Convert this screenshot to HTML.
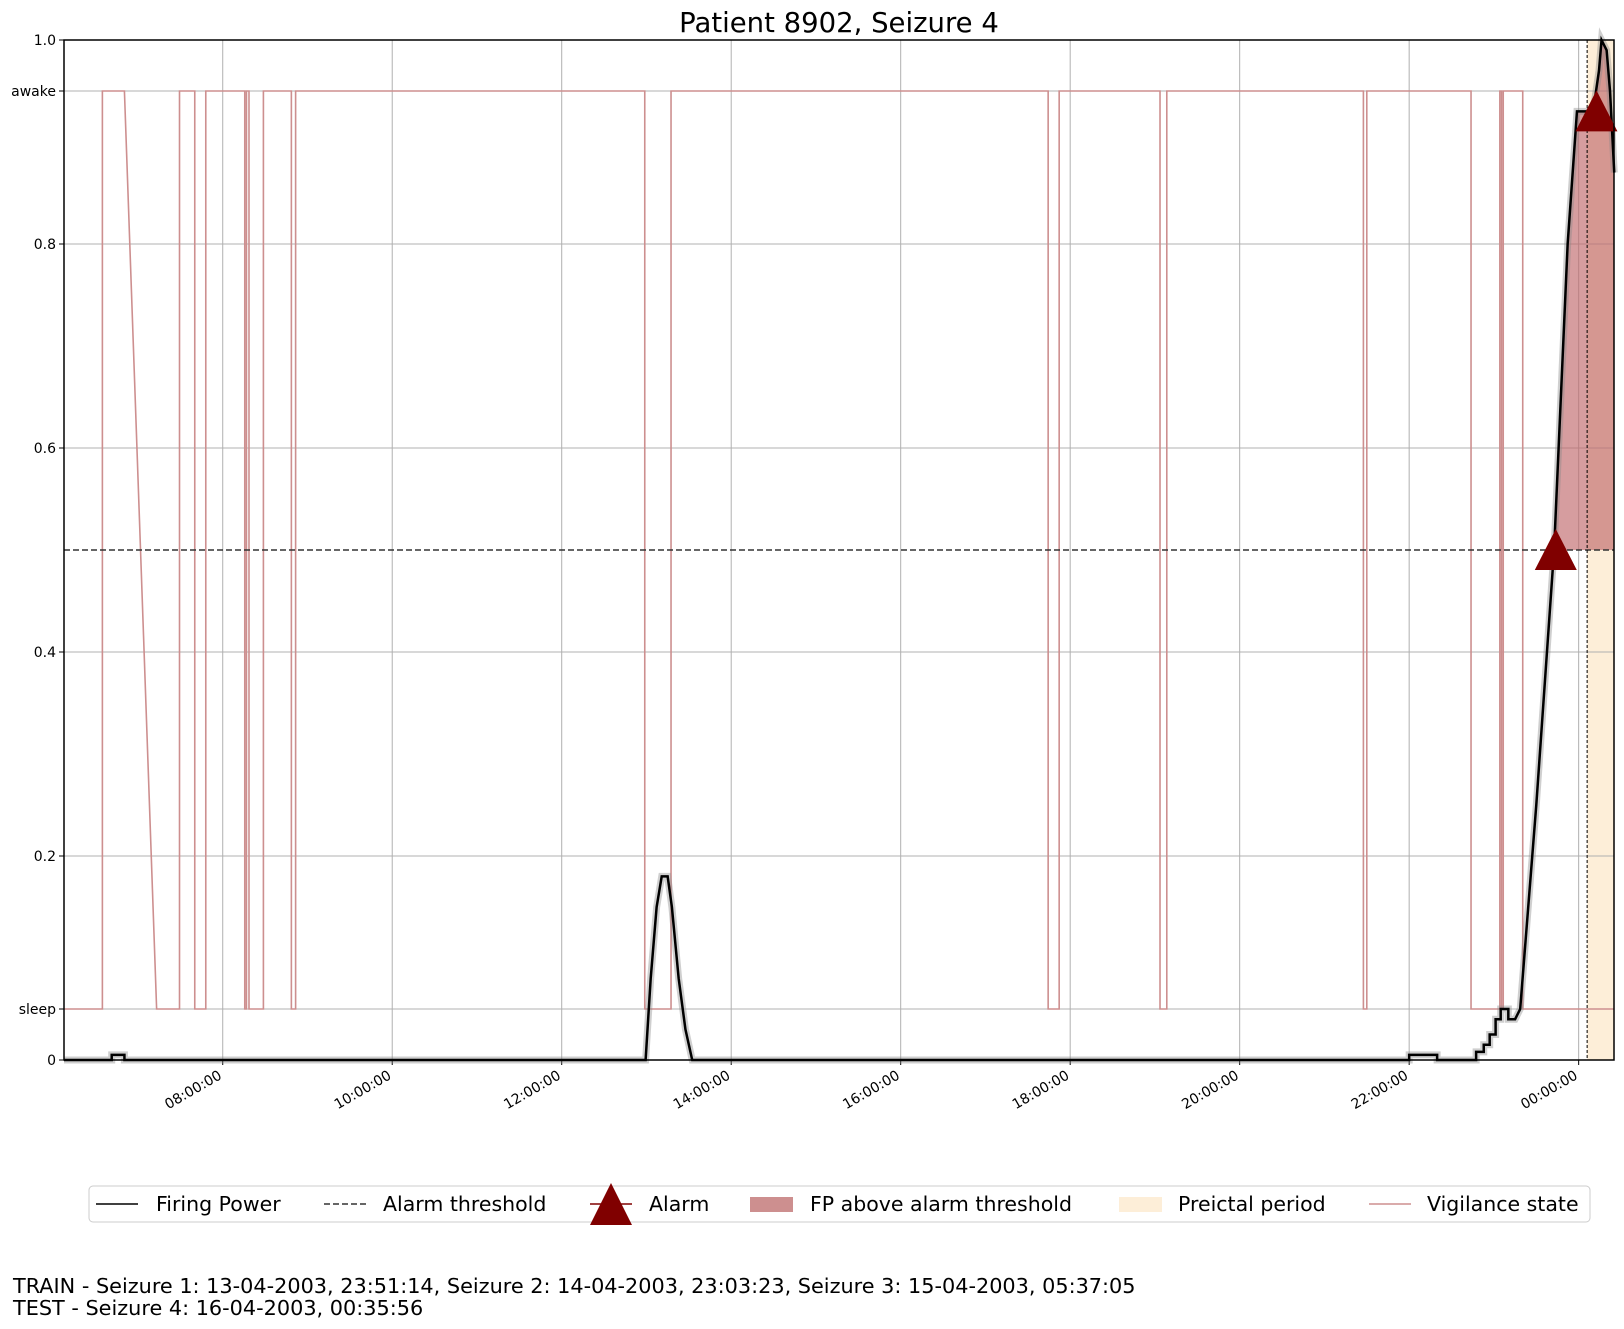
<!DOCTYPE html>
<html><head><meta charset="utf-8"><style>
body{margin:0;background:#fff}
svg{display:block;font-family:"DejaVu Sans","Liberation Sans",sans-serif}
</style></head><body>
<svg id="chart" width="1624" height="1329" viewBox="0 0 1624 1329" xmlns="http://www.w3.org/2000/svg">
<text x="839" y="32" font-size="27.5" text-anchor="middle">Patient 8902, Seizure 4</text>
<g id="plot"></g>
<g>
<rect x="89" y="1186" width="1501" height="36" rx="4" fill="#fff" stroke="#ccc"/>
<line x1="96" y1="1204" x2="138" y2="1204" stroke="#000" stroke-width="1.5"/>
<text x="156" y="1211" font-size="20.5">Firing Power</text>
<line x1="324" y1="1204" x2="366" y2="1204" stroke="#333" stroke-width="1.5" stroke-dasharray="6,3"/>
<text x="383" y="1211" font-size="20.5">Alarm threshold</text>
<line x1="590" y1="1204" x2="632" y2="1204" stroke="#800000" stroke-width="1.5"/>
<polygon points="611,1183 590,1225 632,1225" fill="#800000"/>
<text x="649" y="1211" font-size="20.5">Alarm</text>
<rect x="750" y="1197" width="43" height="15" fill="#cd8f8f"/>
<text x="810" y="1211" font-size="20.5">FP above alarm threshold</text>
<rect x="1119" y="1197" width="43" height="15" fill="#fdeed8"/>
<text x="1178" y="1211" font-size="20.5">Preictal period</text>
<line x1="1369" y1="1204" x2="1411" y2="1204" stroke="#cd8f8f" stroke-width="1.5"/>
<text x="1427" y="1211" font-size="20.5">Vigilance state</text>
</g>
<text x="13" y="1293" font-size="20.8">TRAIN - Seizure 1: 13-04-2003, 23:51:14, Seizure 2: 14-04-2003, 23:03:23, Seizure 3: 15-04-2003, 05:37:05</text>
<text x="13" y="1315" font-size="20.8">TEST - Seizure 4: 16-04-2003, 00:35:56</text>
</svg>
<script>
const xTickHours=[8,10,12,14,16,18,20,22,24];
const xTickLabels=["08:00:00","10:00:00","12:00:00","14:00:00","16:00:00","18:00:00","20:00:00","22:00:00","00:00:00"];
const yTickValues=[0,0.05,0.2,0.4,0.6,0.8,0.95,1.0];
const yTickLabels=["0","sleep","0.2","0.4","0.6","0.8","awake","1.0"];
const vigTimes=[6.127,6.58,6.58,6.84,7.22,7.49,7.49,7.67,7.67,7.80,7.80,8.26,8.26,8.28,8.28,8.31,8.31,8.48,8.48,8.81,8.81,8.86,8.86,12.98,12.98,13.29,13.29,17.74,17.74,17.87,17.87,19.06,19.06,19.14,19.14,21.46,21.46,21.50,21.50,22.73,22.73,23.07,23.07,23.09,23.09,23.11,23.11,23.34,23.34,24.42];
const vigValues=[0.05,0.05,0.95,0.95,0.05,0.05,0.95,0.95,0.05,0.05,0.95,0.95,0.05,0.05,0.95,0.95,0.05,0.05,0.95,0.95,0.05,0.05,0.95,0.95,0.05,0.05,0.95,0.95,0.05,0.05,0.95,0.95,0.05,0.05,0.95,0.95,0.05,0.05,0.95,0.95,0.05,0.05,0.95,0.95,0.05,0.05,0.95,0.95,0.05,0.05];
const fpTimes=[6.127,6.69,6.69,6.84,6.84,12.99,13.05,13.12,13.18,13.25,13.30,13.38,13.46,13.54,22.0,22.0,22.33,22.33,22.79,22.79,22.88,22.88,22.95,22.95,23.02,23.02,23.08,23.08,23.17,23.17,23.25,23.31,23.50,23.71,23.87,23.98,24.17,24.24,24.27,24.33,24.37,24.42];
const fpValues=[0,0,0.005,0.005,0,0,0.08,0.15,0.18,0.18,0.15,0.08,0.03,0,0,0.005,0.005,0,0,0.008,0.008,0.015,0.015,0.025,0.025,0.04,0.04,0.05,0.05,0.04,0.04,0.05,0.25,0.5,0.8,0.93,0.93,0.97,1.0,0.99,0.95,0.87];
const alarmTimes=[23.73,24.21];
const alarmValues=[0.5,0.93];
const threshold=0.5;
const preictalStart=24.1;
const X0=64,X1=1614,Y0=1060,Y1=40,T0=6.127,T1=24.417;
const xs=t=>X0+(t-T0)/(T1-T0)*(X1-X0);
const ys=v=>Y0-v*(Y0-Y1);
const NS="http://www.w3.org/2000/svg";
const g=document.getElementById('plot');
function mk(tag,attrs){const e=document.createElementNS(NS,tag);for(const k in attrs)e.setAttribute(k,attrs[k]);g.appendChild(e);return e;}
let pr=mk('rect',{x:xs(preictalStart),y:Y1,width:X1-xs(preictalStart),height:Y0-Y1,fill:'#fdeed8'});


xTickHours.forEach((h,i)=>{const x=xs(h);
 const gl=mk('line',{x1:x,y1:Y1,x2:x,y2:Y0,stroke:'#b0b0b0','stroke-width':1});
 
 
 mk('line',{x1:x,y1:Y0,x2:x,y2:Y0+5,stroke:'#000'});
 const t=mk('text',{x:x,y:Y0+18,'font-size':14,'text-anchor':'end',transform:`rotate(-30 ${x} ${Y0+18})`});
 t.textContent=xTickLabels[i];
 
 
});
yTickValues.forEach((v,i)=>{const y=ys(v);
 const gl=mk('line',{x1:X0,y1:y,x2:X1,y2:y,stroke:'#b0b0b0','stroke-width':1});
 
 
 mk('line',{x1:X0-5,y1:y,x2:X0,y2:y,stroke:'#000'});
 const t=mk('text',{x:X0-8,y:y+5,'font-size':14,'text-anchor':'end'});
 t.textContent=yTickLabels[i];
 
 
});
let pts=[];
for(let i=0;i<fpTimes.length;i++){if(fpTimes[i]>=alarmTimes[0]-0.02&&fpValues[i]>=threshold)pts.push([fpTimes[i],fpValues[i]]);}
if(pts.length){let d=`M${xs(pts[0][0])},${ys(threshold)} `+pts.map(p=>`L${xs(p[0])},${ys(p[1])}`).join(' ')+` L${xs(pts[pts.length-1][0])},${ys(threshold)} Z`;
 const f=mk('path',{d:d,fill:'#c0696b','fill-opacity':0.65});
 
 }
const vp=mk('polyline',{points:vigTimes.map((t,i)=>xs(t)+','+ys(vigValues[i])).join(' '),fill:'none',stroke:'#cd8f8f','stroke-width':1.6});


const th=mk('line',{x1:X0,y1:ys(threshold),x2:X1,y2:ys(threshold),stroke:'#333','stroke-width':1.5,'stroke-dasharray':'6,3'});


const pl=mk('line',{x1:xs(preictalStart),y1:Y1,x2:xs(preictalStart),y2:Y0,stroke:'#000','stroke-width':1,'stroke-dasharray':'3,2'});


const fpPts=fpTimes.map((t,i)=>xs(t)+','+ys(fpValues[i])).join(' ');
mk('polyline',{points:fpPts,fill:'none',stroke:'#888','stroke-opacity':0.4,'stroke-width':7});
const fp=mk('polyline',{points:fpPts,fill:'none',stroke:'#000','stroke-width':2.5});


alarmTimes.forEach((t,i)=>{const x=xs(t),y=ys(alarmValues[i]);
 const a=mk('polygon',{points:`${x},${y-21} ${x-21},${y+20} ${x+21},${y+20}`,fill:'#800000'});
 
 
});
const sp=mk('rect',{x:X0,y:Y1,width:X1-X0,height:Y0-Y1,fill:'none',stroke:'#000','stroke-width':1.5});


</script>
</body></html>
